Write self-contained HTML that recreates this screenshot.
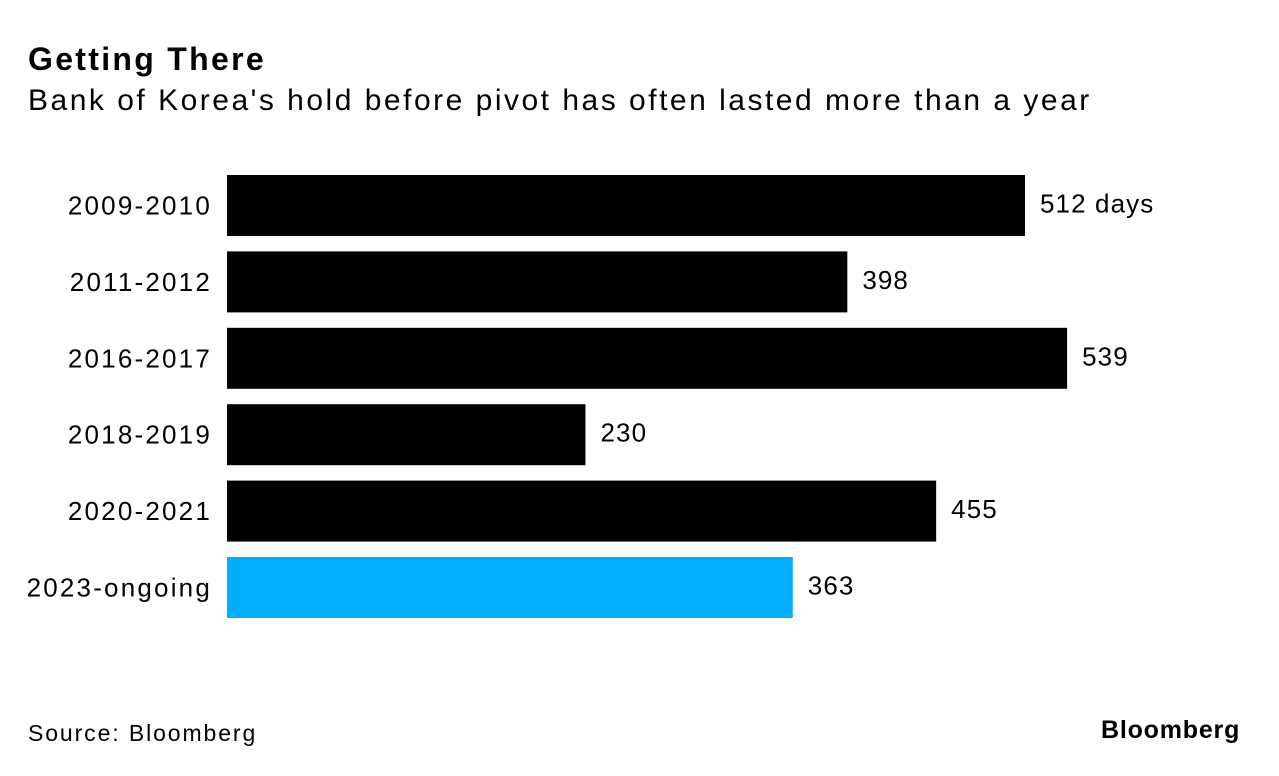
<!DOCTYPE html>
<html><head><meta charset="utf-8"><style>
body{margin:0;width:1279px;height:776px;background:#fff;font-family:"Liberation Sans",sans-serif;overflow:hidden;position:relative}
.t{position:absolute;color:#000;white-space:nowrap}
</style></head><body>
<div class="t" style="left:28px;top:41px;font-size:32px;font-weight:bold;letter-spacing:2.3px">Getting There</div>
<div class="t" style="left:28px;top:84px;font-size:30px;letter-spacing:2.5px">Bank of Korea's hold before pivot has often lasted more than a year</div>
<svg id="chart" width="1279" height="776" style="position:absolute;left:0;top:0"></svg>
<div class="t" style="left:28px;top:720px;font-size:23px;letter-spacing:1.9px">Source: Bloomberg</div>
<div class="t" style="left:1101px;top:716px;font-size:25px;font-weight:bold;letter-spacing:0.8px">Bloomberg</div>
<script>
const categories=["2009-2010","2011-2012","2016-2017","2018-2019","2020-2021","2023-ongoing"];
const values=[512,398,539,230,455,363];
const valueLabels=["512 days","398","539","230","455","363"];
const colors=["#000","#000","#000","#000","#000","#00aeff"];
const svg=document.getElementById('chart');
const NS='http://www.w3.org/2000/svg';
const x0=227,scale=798/512;
const xs=v=>x0+v*scale;
const ys=i=>175+i*76.4;
const bh=61;
categories.forEach((c,i)=>{
  const r=document.createElementNS(NS,'rect');
  r.setAttribute('x',x0);r.setAttribute('y',ys(i));
  r.setAttribute('width',xs(values[i])-x0);r.setAttribute('height',bh);
  r.setAttribute('fill',colors[i]);
  
  
  svg.appendChild(r);
  const l=document.createElementNS(NS,'text');
  l.setAttribute('x',212);l.setAttribute('y',ys(i)+bh/2+9);
  l.setAttribute('text-anchor','end');l.setAttribute('font-size','26');
  l.setAttribute('letter-spacing','2.2');
  l.setAttribute('font-family','Liberation Sans, sans-serif');
  l.textContent=c;
  
  
  svg.appendChild(l);
  const v=document.createElementNS(NS,'text');
  v.setAttribute('x',xs(values[i])+15);v.setAttribute('y',ys(i)+bh/2+7);
  v.setAttribute('font-size','26');
  v.setAttribute('letter-spacing','1.1');
  v.setAttribute('font-family','Liberation Sans, sans-serif');
  v.textContent=valueLabels[i];
  
  
  svg.appendChild(v);
});
</script>
</body></html>
